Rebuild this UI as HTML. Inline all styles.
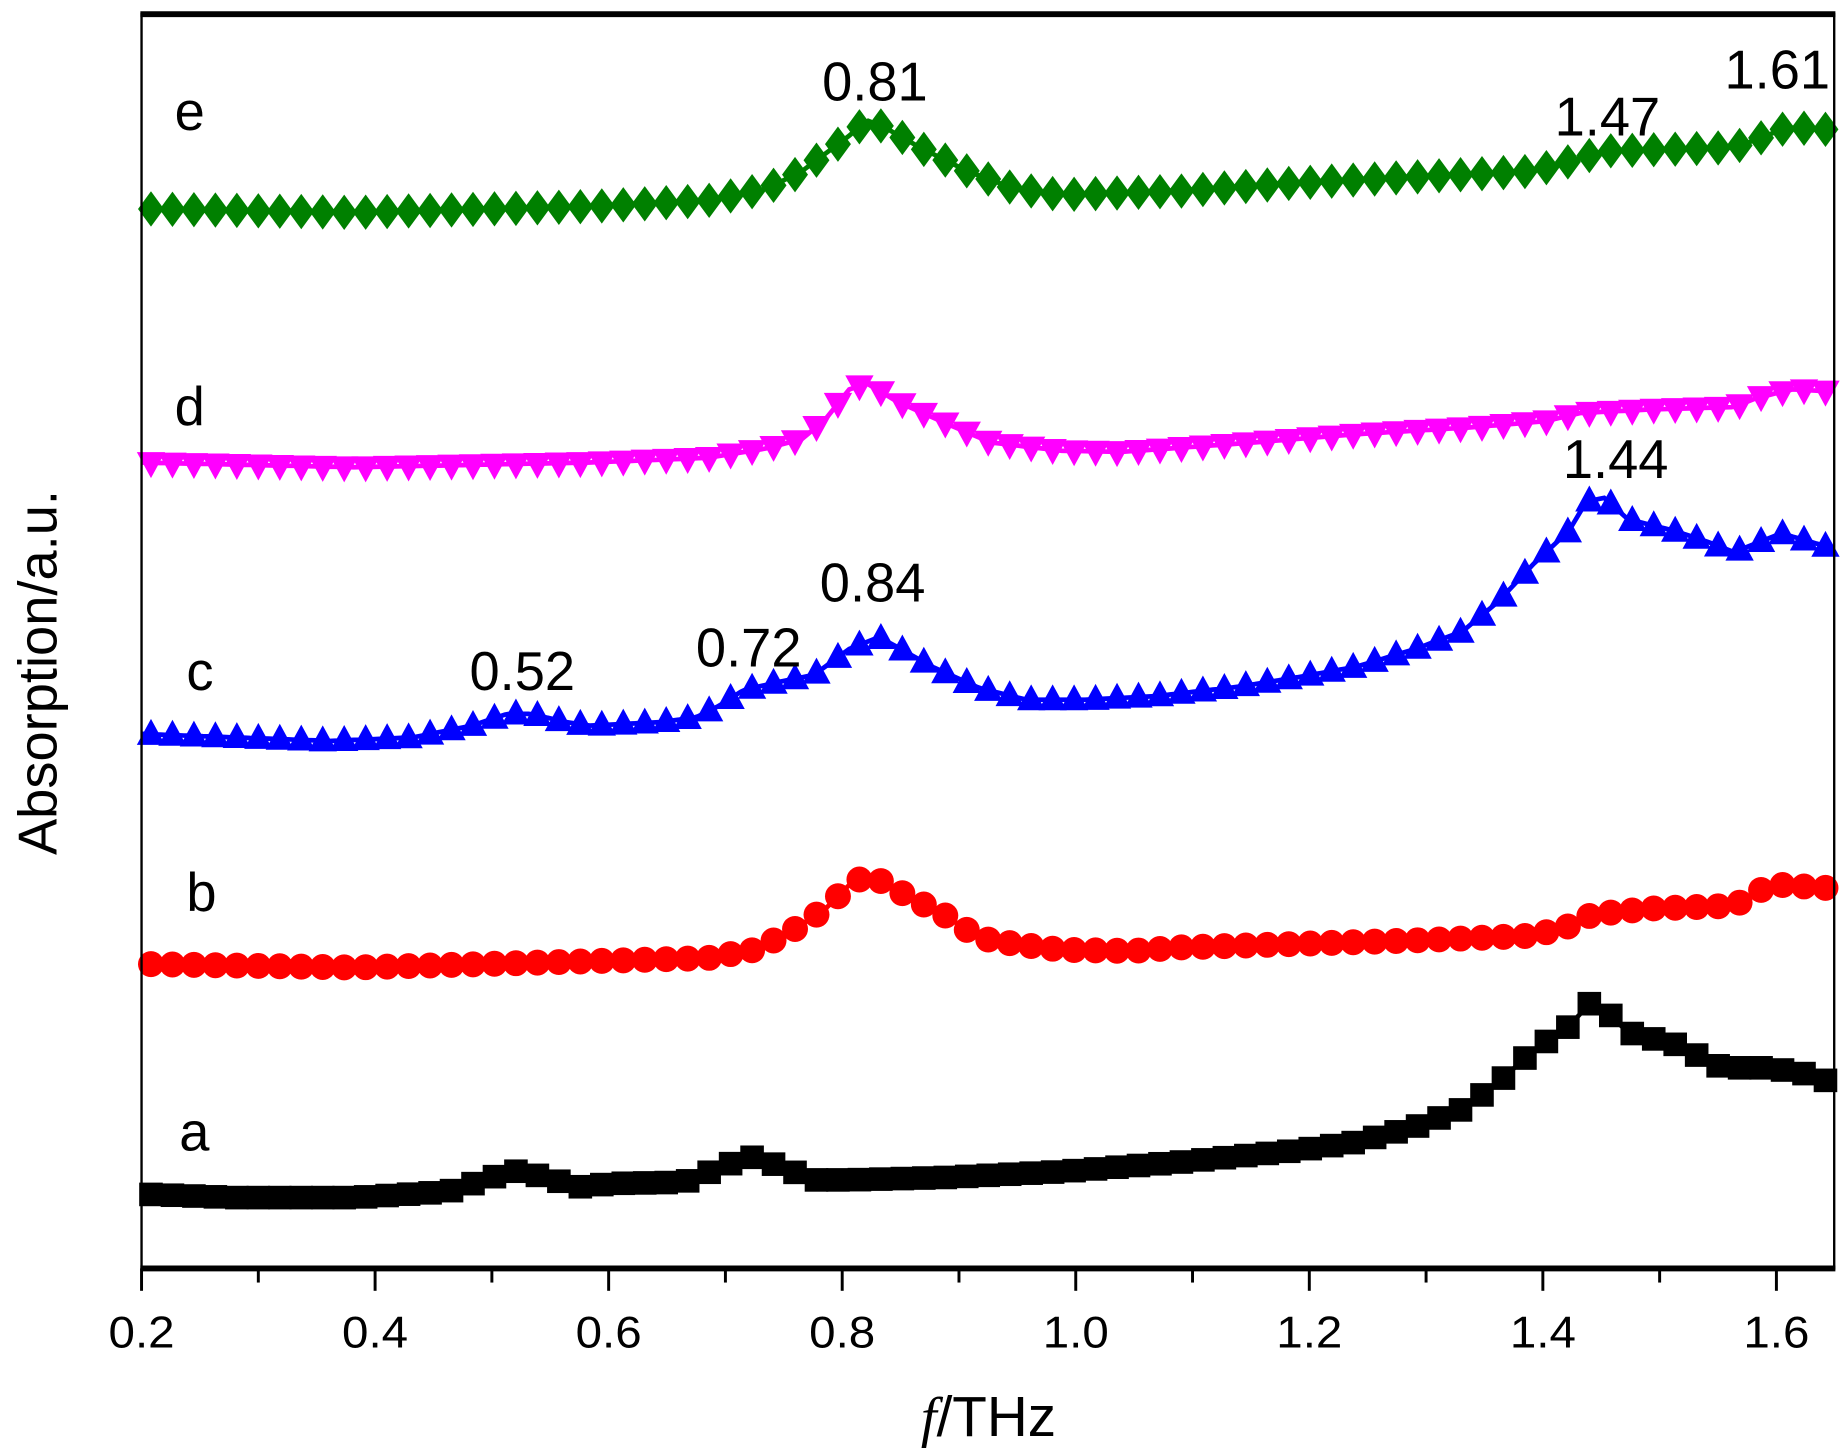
<!DOCTYPE html>
<html><head><meta charset="utf-8"><style>
html,body{margin:0;padding:0;background:#fff;}
svg{display:block;font-family:"Liberation Sans",Arial,sans-serif;}
</style></head><body>
<svg id="s" width="1846" height="1456" viewBox="0 0 1565 1234" preserveAspectRatio="none" xmlns="http://www.w3.org/2000/svg">
<rect x="0" y="0" width="1565" height="1234" fill="#fff"/>
<g id="series"></g>
<rect x="120" y="12" width="1435" height="1063" fill="none" stroke="#000" stroke-width="2"/>
<line x1="119" y1="12" x2="1556" y2="12" stroke="#000" stroke-width="5"/>
<line x1="119" y1="1075" x2="1556" y2="1075" stroke="#000" stroke-width="5"/>
<g id="ticks" stroke="#000" stroke-width="2.5"></g>
<g font-size="38" text-anchor="middle" fill="#000">
<text x="120" y="1142" textLength="56" lengthAdjust="spacingAndGlyphs">0.2</text><text x="318" y="1142" textLength="56" lengthAdjust="spacingAndGlyphs">0.4</text><text x="516" y="1142" textLength="56" lengthAdjust="spacingAndGlyphs">0.6</text>
<text x="714" y="1142" textLength="56" lengthAdjust="spacingAndGlyphs">0.8</text><text x="912" y="1142" textLength="56" lengthAdjust="spacingAndGlyphs">1.0</text><text x="1110" y="1142" textLength="56" lengthAdjust="spacingAndGlyphs">1.2</text>
<text x="1308" y="1142" textLength="56" lengthAdjust="spacingAndGlyphs">1.4</text><text x="1506" y="1142" textLength="56" lengthAdjust="spacingAndGlyphs">1.6</text>
</g>
<text x="838" y="1217" font-size="48" text-anchor="middle"><tspan font-style="italic" font-family="Liberation Serif,serif">f</tspan>/THz</text>
<text transform="translate(48,570) rotate(-90)" font-size="46" text-anchor="middle">Absorption/a.u.</text>
<g font-size="46" fill="#000">
<text x="148" y="110">e</text><text x="148" y="360">d</text><text x="158" y="585">c</text>
<text x="158" y="772">b</text><text x="152" y="975">a</text>
<text x="697" y="85">0.81</text><text x="1462" y="75">1.61</text><text x="1318" y="115">1.47</text>
<text x="1325" y="405">1.44</text><text x="695" y="510">0.84</text><text x="590" y="565">0.72</text>
<text x="398" y="585">0.52</text>
</g>
</svg>
<script>
var NS="http://www.w3.org/2000/svg";
var tk=document.getElementById('ticks');
for(var i=0;i<=14;i++){var x=120+i*99;if(x>1556)break;var l=document.createElementNS(NS,'line');
l.setAttribute('x1',x);l.setAttribute('x2',x);l.setAttribute('y1',1075);l.setAttribute('y2',1075+(i%2?12:19));tk.appendChild(l);}
function interp(p,x){for(var i=0;i<p.length-1;i++){if(x>=p[i][0]&&x<=p[i+1][0]){var t=(x-p[i][0])/(p[i+1][0]-p[i][0]);return p[i][1]+t*(p[i+1][1]-p[i][1]);}}return p[p.length-1][1];}
var S=[
{c:'#000',m:'sq',p:[[120,1012],[200,1015],[300,1015],[380,1010],[420,997],[440,992],[470,1000],[490,1006],[520,1003],[580,1002],[610,990],[635,980],[660,988],[690,1000],[720,1000],[800,998],[900,993],[1000,985],[1100,975],[1150,968],[1200,955],[1240,940],[1270,918],[1300,890],[1330,870],[1348,850],[1360,855],[1380,875],[1420,885],[1460,905],[1500,905],[1530,910],[1555,918]]},
{c:'#f00',m:'ci',p:[[120,817],[300,820],[450,816],[600,812],[640,805],[670,790],[700,770],[720,750],[735,742],[750,748],[770,760],[800,775],[830,795],[860,800],[900,805],[960,806],[1000,803],[1100,800],[1200,797],[1300,793],[1330,785],[1350,775],[1400,770],[1460,768],[1475,765],[1490,755],[1510,750],[1555,753]]},
{c:'#00f',m:'up',p:[[120,622],[200,625],[280,628],[350,625],[400,615],[430,605],[450,605],[480,612],[500,615],[560,612],[590,608],[610,598],[630,585],[660,578],[690,572],[720,550],[745,540],[760,548],[790,565],[830,583],[870,593],[920,593],[980,590],[1050,582],[1100,574],[1150,565],[1200,550],[1240,535],[1270,510],[1300,478],[1330,450],[1345,425],[1360,422],[1380,440],[1420,450],[1450,460],[1470,468],[1490,460],[1510,452],[1555,465]]},
{c:'#f0f',m:'dn',p:[[120,392],[300,396],[500,392],[600,388],[650,380],[680,372],[700,355],[720,330],[735,325],[760,340],[800,358],[840,375],[900,382],[950,383],[1050,376],[1150,368],[1250,362],[1310,357],[1340,350],[1400,347],[1470,345],[1490,337],[1520,330],[1555,332]]},
{c:'#008000',m:'di',p:[[120,177],[300,180],[500,175],[600,170],[650,160],[680,145],[700,130],[720,115],[735,102],[750,108],[780,125],[820,145],[860,160],[900,165],[1000,162],[1100,155],[1200,150],[1300,145],[1330,137],[1360,128],[1470,125],[1490,118],[1515,108],[1555,110]]}
];
var g=document.getElementById('series');
S.forEach(function(s){
 var d='';for(var x=120;x<=1555;x+=4){d+=(x==120?'M':'L')+x+','+interp(s.p,x).toFixed(1);}
 var pl=document.createElementNS(NS,'path');pl.setAttribute('d',d);pl.setAttribute('stroke',s.c);pl.setAttribute('stroke-width',4);pl.setAttribute('fill','none');g.appendChild(pl);
 for(var x=128;x<=1550;x+=18.2){var y=interp(s.p,x),e;
  if(s.m=='sq'){e=document.createElementNS(NS,'rect');e.setAttribute('x',x-10);e.setAttribute('y',y-10);e.setAttribute('width',20);e.setAttribute('height',20);}
  else if(s.m=='ci'){e=document.createElementNS(NS,'circle');e.setAttribute('cx',x);e.setAttribute('cy',y);e.setAttribute('r',11);}
  else{e=document.createElementNS(NS,'polygon');var pts;
   if(s.m=='up')pts=[[x,y-13],[x+12,y+9],[x-12,y+9]];
   else if(s.m=='dn')pts=[[x,y+13],[x+12,y-9],[x-12,y-9]];
   else pts=[[x,y-15],[x+11,y],[x,y+15],[x-11,y]];
   e.setAttribute('points',pts.map(function(q){return q[0].toFixed(1)+','+q[1].toFixed(1)}).join(' '));}
  e.setAttribute('fill',s.c);g.appendChild(e);}
});
</script>
</body></html>
